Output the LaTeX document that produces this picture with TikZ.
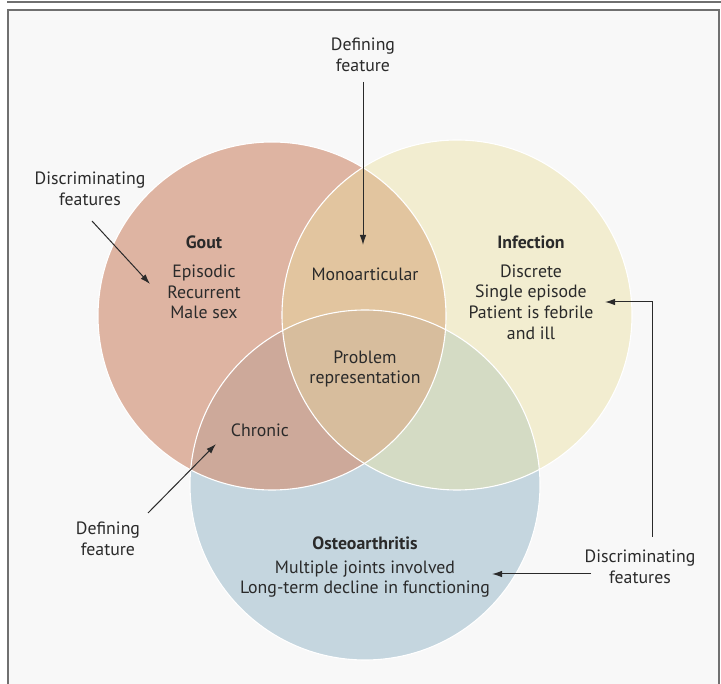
\documentclass[tikz,border=0pt]{standalone}
\usepackage{fontspec}
\setmainfont{PT Sans}
\usetikzlibrary{arrows.meta}
\definecolor{bgc}{HTML}{F8F8F8}
\definecolor{framec}{HTML}{707070}
\definecolor{goutc}{HTML}{DEB4A2}
\definecolor{infc}{HTML}{F2EDD0}
\definecolor{oac}{HTML}{C5D6DF}
\definecolor{giC}{HTML}{E2C59F}
\definecolor{goC}{HTML}{CDA99A}
\definecolor{ioC}{HTML}{D4DBC4}
\definecolor{allC}{HTML}{D7BD9D}
\definecolor{txtc}{HTML}{2A2A2A}
\tikzset{
  lbl/.style={font=\fontsize{17.8}{20.6}\selectfont, text=txtc, align=center, inner sep=0pt},
  ttl/.style={lbl, font=\fontsize{17.8}{20.6}\selectfont\bfseries},
  arr/.style={-{Latex[length=10pt,width=6.5pt]}, line width=1pt, draw=txtc},
  rim/.style={draw=white, line width=1.1pt}
}
\begin{document}
\begin{tikzpicture}[x=1pt,y=-1pt]
\useasboundingbox (0,0) rectangle (721,684);
\fill[white] (0,0) rectangle (721,684);
\fill[bgc] (8,10) rectangle (719,700);
\draw[framec, line width=1.4pt] (8,700) -- (8,10) -- (719,10) -- (719,700);
\draw[framec, line width=2.4pt] (7,2) -- (721,2);
% circles
\def\gout{(272,316) circle (174)}
\def\inf{(457,315) circle (175)}
\def\oa{(365,485) circle (175)}
\fill[goutc] \gout;
\fill[infc] \inf;
\fill[oac] \oa;
\begin{scope}\clip \gout; \fill[giC] \inf; \end{scope}
\begin{scope}\clip \gout; \fill[goC] \oa; \end{scope}
\begin{scope}\clip \inf; \fill[ioC] \oa; \end{scope}
\begin{scope}\clip \gout; \clip \inf; \fill[allC] \oa; \end{scope}
\draw[rim] \gout; \draw[rim] \inf; \draw[rim] \oa;
% texts
\node[ttl] (gout) at (204,242) {Gout};
\node[lbl] (goutf) at (204,292) {Episodic\\Recurrent\\Male sex};
\node[ttl] (infection) at (531,242) {Infection};
\node[lbl] (inff) at (531,302) {Discrete\\Single episode\\Patient is febrile\\and ill};
\node[lbl] (mono) at (365,274) {Monoarticular};
\node[lbl] (prob) at (365,369) {Problem\\representation};
\node[lbl] (chronic) at (260,430) {Chronic};
\node[ttl] (oa) at (365,543) {Osteoarthritis};
\node[lbl] (oaf) at (365,579) {Multiple joints involved\\Long-term decline in functioning};
\node[lbl] (defT) at (363,55) {Defining\\feature};
\node[lbl] (disL) at (90,189) {Discriminating\\features};
\node[lbl] (defB) at (108,539) {Defining\\feature};
\node[lbl] (disR) at (640,567) {Discriminating\\features};
% arrow targets
\coordinate (tMono) at (363,245);
\coordinate (tGout) at (150,284);
\coordinate (tChr) at (216,444);
\coordinate (tOA) at (492,574);
\coordinate (tInf) at (605,302);
\coordinate (sDefT) at (363,82);
\coordinate (sDisL) at (92,221);
\coordinate (sDefB) at (148,513);
\coordinate (sDisR) at (591,574);
\coordinate (sDisR2) at (652,537);
\draw[arr] (sDefT) -- (tMono);
\draw[arr] (sDisL) -- (tGout);
\draw[arr] (sDefB) -- (tChr);
\draw[arr] (sDisR) -- (tOA);
\draw[arr] (sDisR2) |- (tInf);
\end{tikzpicture}
\end{document}
